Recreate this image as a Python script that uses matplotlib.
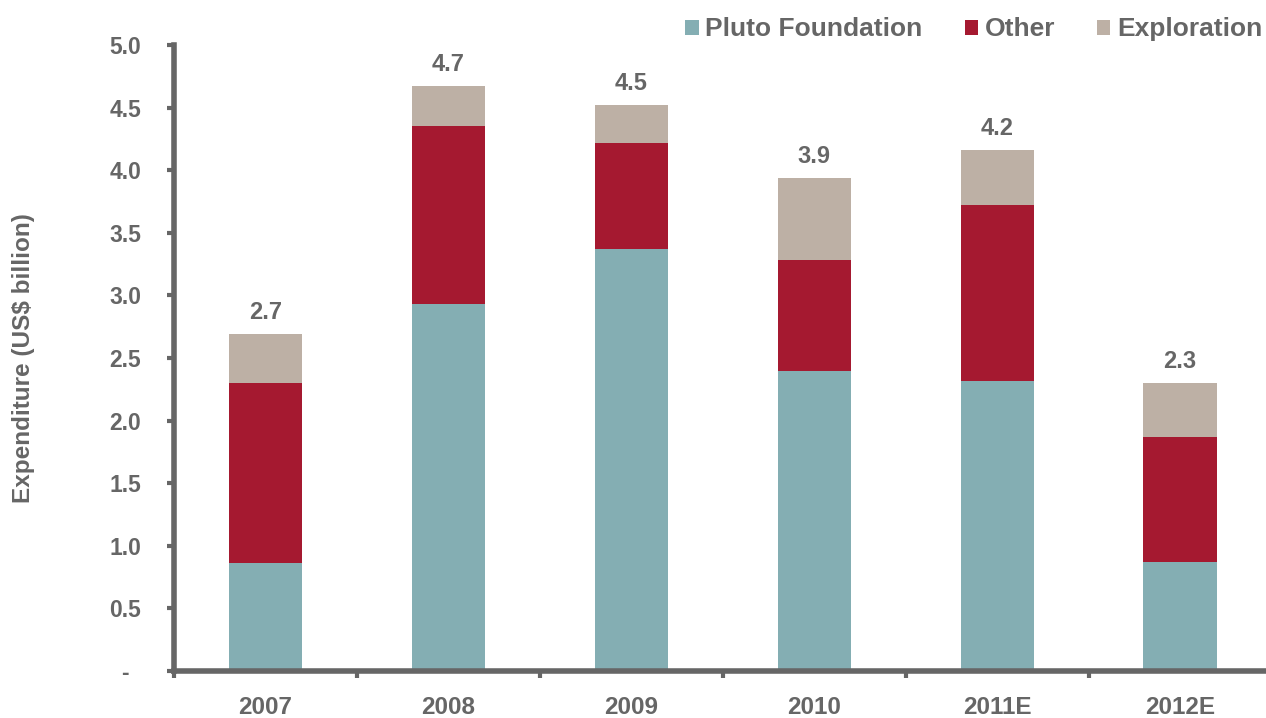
import numpy as np
import matplotlib.pyplot as plt
from matplotlib.ticker import FixedLocator

plt.rcParams['font.family'] = ['Liberation Sans', 'DejaVu Sans']
plt.rcParams['font.weight'] = 'bold'

years = ["2007", "2008", "2009", "2010", "2011E", "2012E"]
pluto = [0.86, 2.93, 3.37, 2.40, 2.32, 0.87]
other = [1.44, 1.42, 0.85, 0.88, 1.40, 1.00]
exploration = [0.39, 0.32, 0.30, 0.66, 0.44, 0.43]
totals = ["2.7", "4.7", "4.5", "3.9", "4.2", "2.3"]

grey = "#666666"
c_pluto = "#84AEB3"
c_other = "#A51930"
c_expl = "#BDB0A5"

fig = plt.figure(figsize=(12.66, 7.18), dpi=100)
ax = fig.add_axes([0.1374, 0.0655, 0.8626, 0.8718])

x = np.arange(len(years))
w = 0.40
b1 = ax.bar(x, pluto, w, color=c_pluto, label="Pluto Foundation")
bottom2 = np.array(pluto)
b2 = ax.bar(x, other, w, bottom=bottom2, color=c_other, label="Other")
bottom3 = bottom2 + np.array(other)
b3 = ax.bar(x, exploration, w, bottom=bottom3, color=c_expl, label="Exploration")

# totals above each stack
tops = bottom3 + np.array(exploration)
for xi, t, lab in zip(x, tops, totals):
    ax.text(xi, t + 0.08, lab, ha="center", va="bottom", fontsize=17,
            color=grey, fontweight="bold")

ax.set_xlim(-0.5, 5.47)
ax.set_ylim(0, 5.0)
ax.set_yticks(np.arange(0, 5.01, 0.5))
ax.set_yticklabels(["-"] + ["%.1f" % v for v in np.arange(0.5, 5.01, 0.5)])
ax.set_xticks(x)
ax.set_xticklabels(years)
ax.xaxis.set_minor_locator(FixedLocator(np.arange(-0.5, 5.6, 1.0)))

for s in ["top", "right"]:
    ax.spines[s].set_visible(False)
for s in ["left", "bottom"]:
    ax.spines[s].set_color(grey)
    ax.spines[s].set_linewidth(4)

ax.tick_params(axis="y", colors=grey, labelsize=16.5, length=5, width=3, pad=30)
ax.tick_params(axis="x", which="major", length=0, colors=grey, labelsize=17.5, pad=18)
ax.tick_params(axis="x", which="minor", length=5, width=3, color=grey)
for lab in ax.get_yticklabels():
    lab.set_horizontalalignment("center")
    lab.set_fontweight("bold")
for lab in ax.get_xticklabels():
    lab.set_fontweight("bold")

ax.set_ylabel("Expenditure (US$ billion)", color=grey, fontsize=17.5,
              fontweight="bold")
ax.yaxis.set_label_coords(-0.127, 0.5)

leg = fig.legend(handles=[b1, b2, b3], loc="center right", ncol=3,
                 bbox_to_anchor=(0.997, 0.959), frameon=False, fontsize=19,
                 handlelength=0.5, handleheight=0.5, handletextpad=0.25,
                 columnspacing=1.6, borderpad=0, borderaxespad=0)
for t in leg.get_texts():
    t.set_color(grey)
    t.set_fontweight("bold")

fig.savefig("out.png", dpi=100)
